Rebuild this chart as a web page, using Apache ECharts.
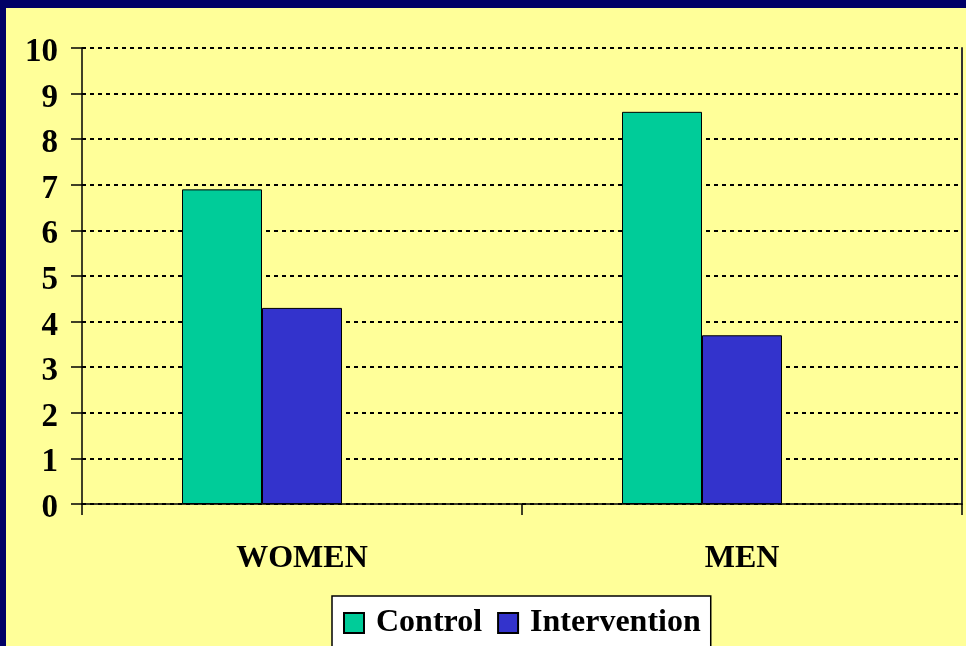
<!DOCTYPE html>
<html><head><meta charset="utf-8">
<script src="https://cdn.jsdelivr.net/npm/echarts@6/dist/echarts.min.js"></script>
<style>html,body{margin:0;padding:0;background:#000066}#c{width:966px;height:646px}</style>
</head><body><div id="c"></div>
<script>
const categories = ['WOMEN', 'MEN'];
const controlValues = [6.9, 8.6];
const interventionValues = [4.3, 3.7];
const emptyThirdSeries = [null, null];
const yTicks = [0,1,2,3,4,5,6,7,8,9,10];

const font = '"Liberation Serif","Times New Roman",serif';
const chart = echarts.init(document.getElementById('c'), null, {renderer:'canvas'});
chart.setOption({
  backgroundColor: '#000066',
  animation: false,
  graphic: [{type:'rect', z:-100, shape:{x:6,y:8,width:960,height:638}, style:{fill:'#FFFF99'}, silent:true}],
  grid: {left:82, right:4, top:48, bottom:142},
  legend: {
    data: ['Control','Intervention'],
    left: 332, top: 596,
    backgroundColor: '#ffffff', borderColor: '#000000', borderWidth: 1.5,
    padding: [11, 10, 11, 11],
    icon: 'rect',
    itemWidth: 20, itemHeight: 20, itemGap: 15,
    textStyle: {fontFamily: font, fontWeight:'bold', fontSize: 32, color:'#000', padding:[0,0,0,7], lineHeight: 26}
  },
  xAxis: {
    type: 'category', data: categories,
    axisLine: {lineStyle:{color:'#000', width:1.5}},
    axisTick: {show:true, length:11, lineStyle:{color:'#000', width:1.5}},
    axisLabel: {fontFamily: font, fontWeight:'bold', fontSize:32, color:'#000', margin:39}
  },
  yAxis: [{
    type: 'value', min: 0, max: 10, interval: 1,
    axisLine: {show:true, lineStyle:{color:'#000', width:1.5}},
    axisTick: {show:true, length:11, lineStyle:{color:'#000', width:1.5}},
    axisLabel: {margin:24,
      formatter: v => yTicks.includes(v) ? '{a|' + v + '}' : '',
      rich: {a: {fontFamily: font, fontWeight:'bold', fontSize:33, color:'#000', lineHeight:33, padding:[9,0,0,0]}}},
    splitLine: {show:true, lineStyle:{color:'#000', width:2, type:[4,4]}}
  },{
    type: 'value', min: 0, max: 10, position: 'right',
    axisLine: {show:true, lineStyle:{color:'#333', width:2}},
    axisTick: {show:false}, axisLabel: {show:false}, splitLine: {show:false}
  }],
  series: [
    {name:'Control', type:'bar', data: controlValues, barWidth: 80, barGap: '0%',
     itemStyle:{color:'#00CC99', borderColor:'#000', borderWidth:1}},
    {name:'Intervention', type:'bar', data: interventionValues, barWidth: 80, barGap: '0%',
     itemStyle:{color:'#3333CC', borderColor:'#000', borderWidth:1}},
    {name:'spacer', type:'bar', data: emptyThirdSeries, barWidth: 80, barGap: '0%',
     itemStyle:{color:'#FFFF99'}}
  ]
});
</script></body></html>
